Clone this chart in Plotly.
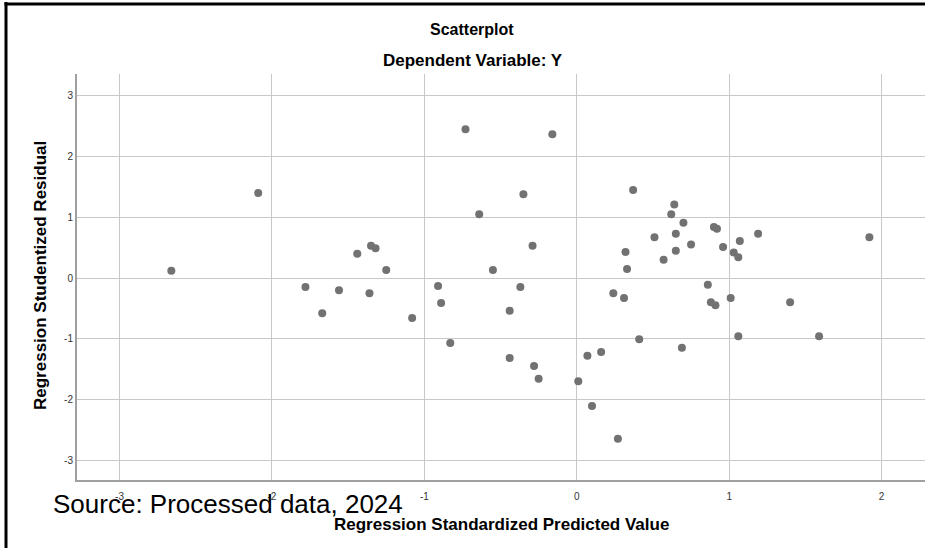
import plotly.graph_objects as go

x_pred = [-2.66, -2.09, -1.78, -1.67, -1.56, -1.44, -1.36, -1.35, -1.32, -1.25,
          -1.08, -0.91, -0.89, -0.83, -0.73, -0.64, -0.55, -0.44, -0.44, -0.35,
          -0.37, -0.29, -0.28, -0.25, -0.16, 0.01, 0.07, 0.10, 0.16, 0.24,
          0.27, 0.32, 0.31, 0.33, 0.37, 0.41, 0.51, 0.57, 0.62, 0.64,
          0.65, 0.65, 0.69, 0.70, 0.75, 0.86, 0.90, 0.92, 0.88, 0.91,
          0.96, 1.01, 1.03, 1.06, 1.07, 1.06, 1.19, 1.40, 1.59, 1.92]
y_resid = [0.12, 1.40, -0.15, -0.58, -0.20, 0.40, -0.25, 0.53, 0.49, 0.13,
           -0.66, -0.13, -0.41, -1.07, 2.45, 1.05, 0.13, -0.54, -1.32, 1.38,
           -0.15, 0.53, -1.45, -1.66, 2.37, -1.70, -1.28, -2.11, -1.22, -0.25,
           -2.65, 0.43, -0.33, 0.15, 1.45, -1.01, 0.67, 0.30, 1.05, 1.21,
           0.73, 0.45, -1.15, 0.91, 0.55, -0.11, 0.84, 0.81, -0.40, -0.45,
           0.51, -0.33, 0.42, 0.34, 0.61, -0.96, 0.73, -0.40, -0.96, 0.67]

x_ticks = [-3, -2, -1, 0, 1, 2]
y_ticks = [-3, -2, -1, 0, 1, 2, 3]

W, H = 925, 548
L, R, T, B = 77, 0, 74, 68
PW, PH = W - L - R, H - T - B

def px(x):
    return (x - L) / PW

def py(y):
    return (H - B - y) / PH

FONT = "Liberation Sans, Arial, sans-serif"

fig = go.Figure()
fig.add_trace(go.Scatter(
    x=x_pred, y=y_resid, mode="markers",
    marker=dict(size=8, color="#727272", line=dict(width=0)),
    hoverinfo="x+y", showlegend=False,
))

fig.update_layout(
    width=W, height=H,
    margin=dict(l=L, r=R, t=T, b=B, pad=0),
    paper_bgcolor="white", plot_bgcolor="white",
    font=dict(family=FONT, color="#000000"),
    xaxis=dict(
        range=[-3.279, 2.285], tickvals=x_ticks, ticktext=[str(v) for v in x_ticks],
        showgrid=True, gridcolor="#c8c8c8", gridwidth=1,
        zeroline=False, showline=True, linecolor="#a0a0a0", linewidth=2,
        ticks="", tickfont=dict(size=10, color="#333333", family=FONT),
        ticklabelstandoff=6, fixedrange=True,
    ),
    yaxis=dict(
        range=[-3.328, 3.361], tickvals=y_ticks, ticktext=[str(v) for v in y_ticks],
        showgrid=True, gridcolor="#c8c8c8", gridwidth=1,
        zeroline=False, showline=True, linecolor="#a0a0a0", linewidth=2,
        ticks="", tickfont=dict(size=10, color="#333333", family=FONT),
        fixedrange=True,
    ),
    annotations=[
        dict(text="<b>Scatterplot</b>", x=px(472), y=py(30), xref="paper", yref="paper",
             xanchor="center", yanchor="middle", showarrow=False,
             font=dict(size=16, family=FONT, color="#000000")),
        dict(text="<b>Dependent Variable: Y</b>", x=px(473), y=py(61), xref="paper", yref="paper",
             xanchor="center", yanchor="middle", showarrow=False,
             font=dict(size=17, family=FONT, color="#000000")),
        dict(text="<b>Regression Standardized Predicted Value</b>", x=px(502), y=py(524),
             xref="paper", yref="paper", xanchor="center", yanchor="middle", showarrow=False,
             font=dict(size=17, family=FONT, color="#000000")),
        dict(text="<b>Regression Studentized Residual</b>", x=px(40), y=py(276),
             xref="paper", yref="paper", xanchor="center", yanchor="middle", showarrow=False,
             textangle=-90, font=dict(size=17, family=FONT, color="#000000")),
        dict(text="Source: Processed data, 2024", x=px(51), y=py(504),
             xref="paper", yref="paper", xanchor="left", yanchor="middle", showarrow=False,
             font=dict(size=26, family=FONT, color="#000000")),
    ],
    shapes=[
        dict(type="line", xref="paper", yref="paper", x0=px(6), x1=px(6), y0=py(2), y1=py(560),
             line=dict(color="#000000", width=3)),
        dict(type="line", xref="paper", yref="paper", x0=px(4.5), x1=px(930), y0=py(4), y1=py(4),
             line=dict(color="#000000", width=3)),
    ],
)

fig.write_html("out.html", config={"displayModeBar": False},
               post_script="document.body.style.margin='0';document.body.style.padding='0';")
